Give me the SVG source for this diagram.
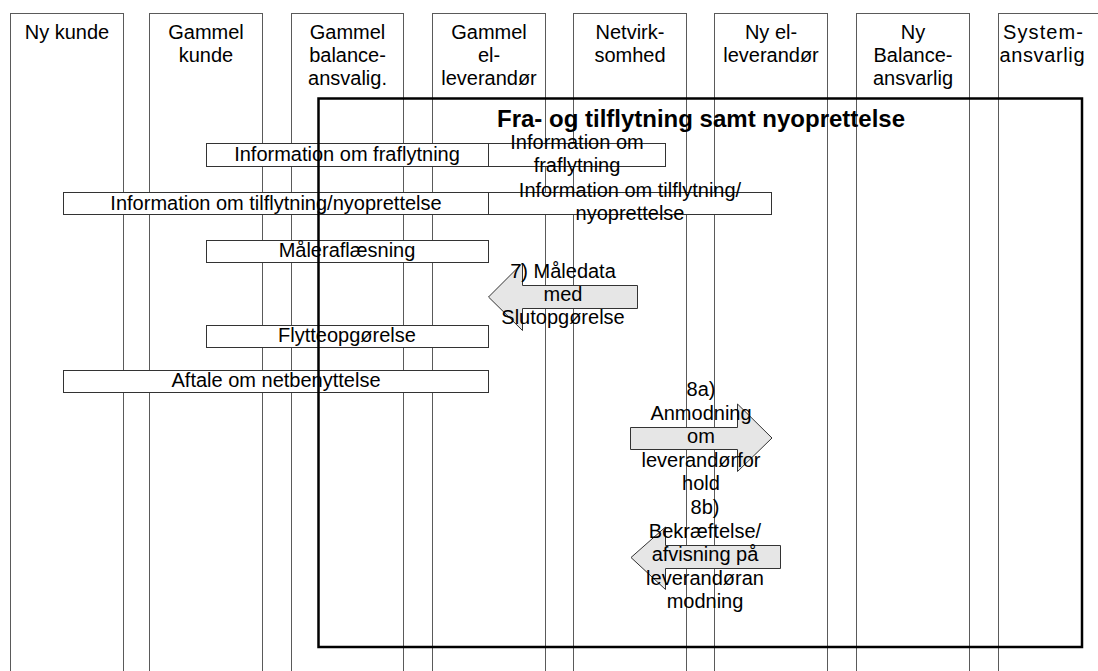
<svg xmlns="http://www.w3.org/2000/svg" width="1098" height="671" viewBox="0 0 1098 671">
<style>
text{font-family:"Liberation Sans",Arial,sans-serif;font-size:20px;fill:#000;text-anchor:middle}
.lane{fill:none;stroke:#5a5a5a;stroke-width:1}
.box{fill:#fff;stroke:#333;stroke-width:1}
.arr{fill:#e6e6e6;stroke:#333;stroke-width:1}
.frame{fill:none;stroke:#000;stroke-width:2.5}
.title{font-weight:bold;font-size:24px}
</style>
<rect width="1098" height="671" fill="#fff"/>
<g id="lanes">
<g id="lane-ny-kunde"><rect class="lane" x="10.5" y="13.5" width="113" height="700"/><text x="67" y="38.5">Ny kunde</text></g>
<g id="lane-gammel-kunde"><rect class="lane" x="149.5" y="13.5" width="113" height="700"/><text x="206" y="38.5">Gammel</text><text x="206" y="61.5">kunde</text></g>
<g id="lane-gammel-balance"><rect class="lane" x="291.5" y="13.5" width="112" height="700"/><text x="347.5" y="38.5">Gammel</text><text x="347.5" y="61.5">balance-</text><text x="347.5" y="84.5">ansvalig.</text></g>
<g id="lane-gammel-el"><rect class="lane" x="432.5" y="13.5" width="113" height="700"/><text x="489" y="38.5">Gammel</text><text x="489" y="61.5">el-</text><text x="489" y="84.5">leverandør</text></g>
<g id="lane-netvirksomhed"><rect class="lane" x="573.5" y="13.5" width="113" height="700"/><text x="630" y="38.5">Netvirk-</text><text x="630" y="61.5">somhed</text></g>
<g id="lane-ny-el"><rect class="lane" x="714.5" y="13.5" width="113" height="700"/><text x="771" y="38.5">Ny el-</text><text x="771" y="61.5">leverandør</text></g>
<g id="lane-ny-balance"><rect class="lane" x="856.5" y="13.5" width="113" height="700"/><text x="913" y="38.5">Ny</text><text x="913" y="61.5">Balance-</text><text x="913" y="84.5">ansvarlig</text></g>
<g id="lane-system"><rect class="lane" x="998.5" y="13.5" width="113" height="700"/><text x="1043" y="38.5" textLength="80" lengthAdjust="spacing">System-</text><text x="1042" y="61.5" textLength="85" lengthAdjust="spacing">ansvarlig</text></g>
</g>
<g id="title"><text class="title" x="701" y="127">Fra- og tilflytning samt nyoprettelse</text></g>
<g id="messages">
<g id="msg-fraflytning"><rect class="box" x="206.5" y="143.5" width="282" height="23"/><text x="347" y="161">Information om fraflytning</text></g>
<g id="msg-fraflytning-2"><rect class="box" x="488.5" y="143.5" width="177" height="23"/><text x="577" y="148.5">Information om</text><text x="577" y="171.5">fraflytning</text></g>
<g id="msg-tilflytning"><rect class="box" x="63.5" y="192.5" width="425" height="22"/><text x="276" y="209.5">Information om tilflytning/nyoprettelse</text></g>
<g id="msg-tilflytning-2"><rect class="box" x="488.5" y="192.5" width="283" height="22"/><text x="630" y="196.5">Information om tilflytning/</text><text x="630" y="219.5">nyoprettelse</text></g>
<g id="msg-maaleraflaesning"><rect class="box" x="206.5" y="240.5" width="282" height="22"/><text x="347" y="257">Måleraflæsning</text></g>
<g id="msg-flytteopgoerelse"><rect class="box" x="206.5" y="325.5" width="282" height="22"/><text x="347" y="342">Flytteopgørelse</text></g>
<g id="msg-aftale"><rect class="box" x="63.5" y="370.5" width="425" height="22"/><text x="276" y="387">Aftale om netbenyttelse</text></g>
</g>
<g id="connectors">
<g id="arrow-7"><path class="arr" d="M488.5,297 L522.5,263 L522.5,285.5 L637.5,285.5 L637.5,308.5 L522.5,308.5 L522.5,330.5 Z"/><text x="563" y="278">7) Måledata</text><text x="563" y="301">med</text><text x="563" y="324">Slutopgørelse</text></g>
<g id="arrow-8a"><path class="arr" d="M630.5,427.5 L737.5,427.5 L737.5,404 L772,438 L737.5,471.5 L737.5,449.5 L630.5,449.5 Z"/><text x="701" y="396">8a)</text><text x="701" y="419.5">Anmodning</text><text x="701" y="443">om</text><text x="701" y="466.5">leverandørfor</text><text x="701" y="490">hold</text></g>
<g id="arrow-8b"><path class="arr" d="M631,557.5 L665.5,527 L665.5,545.5 L780.5,545.5 L780.5,568.5 L665.5,568.5 L665.5,589.5 Z"/><text x="705" y="514">8b)</text><text x="705" y="537.5">Bekræftelse/</text><text x="705" y="561">afvisning på</text><text x="705" y="584.5">leverandøran</text><text x="705" y="608">modning</text></g>
</g>
<g id="frame"><rect class="frame" x="318.5" y="98.5" width="763.5" height="548.5"/></g>
</svg>
